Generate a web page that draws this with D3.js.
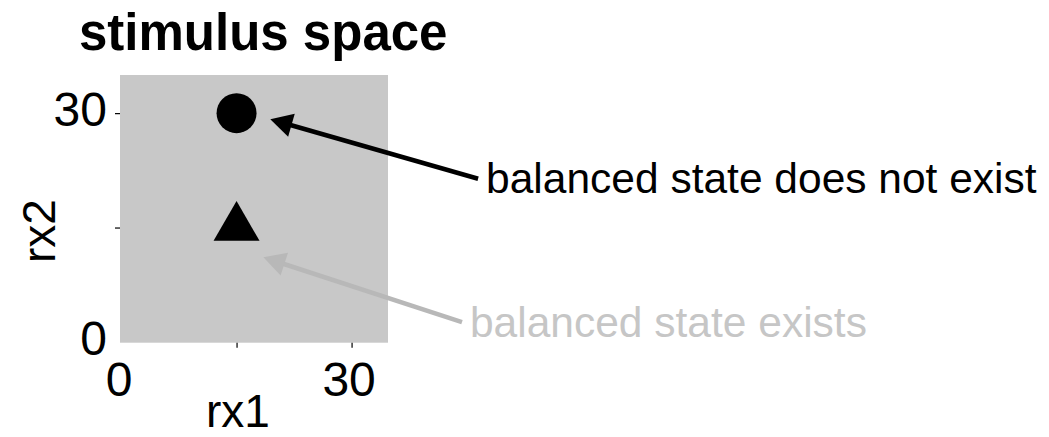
<!DOCTYPE html>
<html>
<head>
<meta charset="utf-8">
<script src="https://cdn.jsdelivr.net/npm/d3@7"></script>
<style>
  html, body { margin: 0; padding: 0; background: #fff; }
  svg { display: block; font-family: "Liberation Sans", Arial, Helvetica, sans-serif; }
</style>
</head>
<body>
<svg id="chart" width="1049" height="437"></svg>
<script>
// Stimulus points (rx1, rx2) and their marker shapes
const pointX = [15, 15];
const pointY = [30, 15];
const pointShape = ["circle", "triangle"];

// Axis ticks and which of them carry a label
const tickValues = [0, 15, 30];
const tickLabels = ["0", "", "30"];

// Annotations: text, arrow tail and arrow tip in data units
const noteText = ["balanced state does not exist", "balanced state exists"];
const noteTail = [[46.5, 21.4], [44.4, 2.6]];
const noteTip = [[19.4, 29.2], [18.5, 11.1]];
const noteColor = ["#000000", "#b8b8b8"];
const noteTextColor = ["#000000", "#c6c6c6"];

const svg = d3.select("#chart");

const x = d3.scaleLinear().domain([-0.2, 34.75]).range([120, 388]);
const y = d3.scaleLinear().domain([-0.1, 35]).range([342.7, 75]);

// panel background
svg.append("rect")
  .attr("x", x.range()[0])
  .attr("y", y.range()[1])
  .attr("width", x.range()[1] - x.range()[0])
  .attr("height", y.range()[0] - y.range()[1])
  .attr("fill", "#c8c8c8");

// title
svg.append("text")
  .attr("x", 79).attr("y", 50)
  .attr("font-size", 51).attr("font-weight", "bold")
  .text("stimulus space");

const fmt = d => tickLabels[tickValues.indexOf(d)];

const xAxis = svg.append("g")
  .attr("transform", `translate(0,${y.range()[0]})`)
  .call(d3.axisBottom(x).tickValues(tickValues).tickFormat(fmt).tickSize(5).tickPadding(14));
const yAxis = svg.append("g")
  .attr("transform", `translate(${x.range()[0]},0)`)
  .call(d3.axisLeft(y).tickValues(tickValues).tickFormat(fmt).tickSize(5).tickPadding(8));

[xAxis, yAxis].forEach(g => {
  g.select(".domain").remove();
  g.selectAll(".tick line").attr("stroke", "#000").attr("stroke-width", 1.2)
    .filter(d => d === 0).remove();
  g.selectAll(".tick text")
    .attr("font-size", 48)
    .attr("font-family", "'Liberation Sans', Arial, Helvetica, sans-serif")
    .attr("fill", "#000");
});
xAxis.selectAll(".tick text").attr("dx", "-3");
yAxis.selectAll(".tick text").attr("dy", "0.26em");

// axis titles
svg.append("text")
  .attr("x", 238).attr("y", 427)
  .attr("text-anchor", "middle")
  .attr("font-size", 46)
  .text("rx1");
svg.append("text")
  .attr("transform", "translate(55,231) rotate(-90)")
  .attr("text-anchor", "middle")
  .attr("font-size", 46)
  .text("rx2");

// points
const pts = pointX.map((v, i) => ({ x: v, y: pointY[i], shape: pointShape[i] }));
svg.selectAll("path.pt")
  .data(pts)
  .join("path")
  .attr("class", "pt")
  .attr("transform", d => `translate(${x(d.x)},${y(d.y)})`)
  .attr("d", d => d.shape === "circle"
    ? d3.symbol(d3.symbolCircle, Math.PI * 20 * 20)()
    : d3.symbol(d3.symbolTriangle, 916)())
  .attr("fill", "#000");

// annotation arrows and labels
const headLen = 22, headHalf = 12;
noteText.forEach((label, i) => {
  const x0 = x(noteTail[i][0]), y0 = y(noteTail[i][1]);
  const x1 = x(noteTip[i][0]), y1 = y(noteTip[i][1]);
  const ang = Math.atan2(y1 - y0, x1 - x0);
  const bx = x1 - headLen * Math.cos(ang), by = y1 - headLen * Math.sin(ang);
  svg.append("line")
    .attr("x1", x0).attr("y1", y0)
    .attr("x2", bx + 2 * Math.cos(ang)).attr("y2", by + 2 * Math.sin(ang))
    .attr("stroke", noteColor[i]).attr("stroke-width", 4.5);
  const nx = -Math.sin(ang), ny = Math.cos(ang);
  svg.append("path")
    .attr("d", `M${x1},${y1}L${bx + nx * headHalf},${by + ny * headHalf}L${bx - nx * headHalf},${by - ny * headHalf}Z`)
    .attr("fill", noteColor[i]);
  svg.append("text")
    .attr("x", x0 + 8).attr("y", y0)
    .attr("dy", "0.34em")
    .attr("font-size", 42.5)
    .attr("fill", noteTextColor[i])
    .text(label);
});
</script>
</body>
</html>
